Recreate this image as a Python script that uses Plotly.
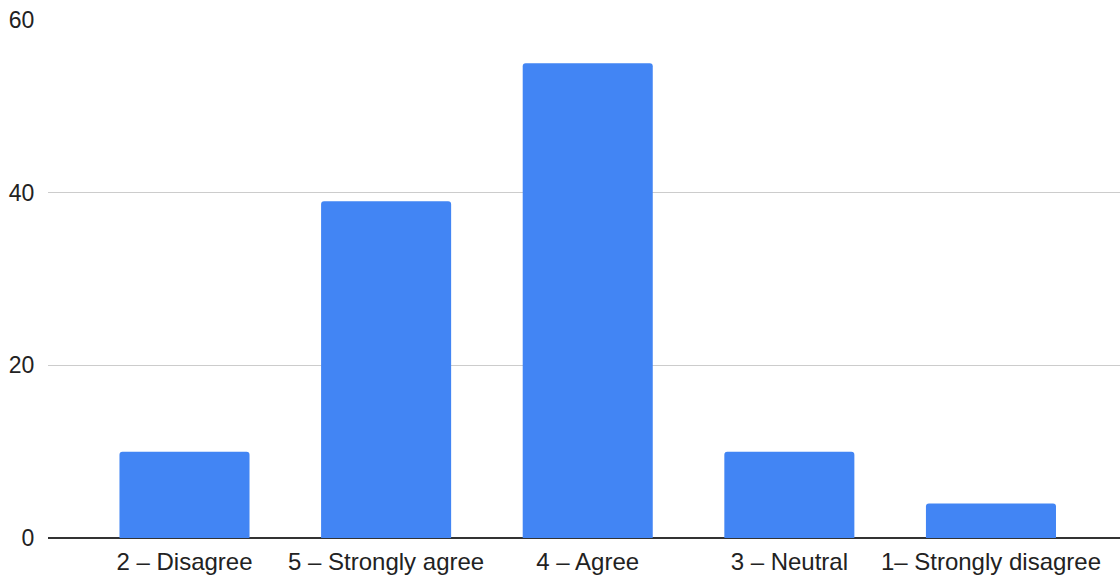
import plotly.graph_objects as go

categories = ["2 – Disagree", "5 – Strongly agree", "4 – Agree", "3 – Neutral", "1– Strongly disagree"]
values = [10, 39, 55, 10, 4]
y_ticks = [0, 20, 40, 60]

fig = go.Figure(go.Bar(x=categories, y=values, marker=dict(color="#4285F4", line=dict(width=0)),
                       hoverinfo="x+y"))

fig.update_layout(
    width=1120, height=577,
    margin=dict(l=48, r=0, t=20, b=39),
    paper_bgcolor="white", plot_bgcolor="white",
    bargap=0.355, barcornerradius=3,
    font=dict(family="Liberation Sans, Arial, sans-serif", size=24, color="#222222"),
    showlegend=False,
)
fig.update_xaxes(type="category", range=[-0.677, 4.64], showgrid=False, showline=False, automargin=False,
                 ticks="outside", ticklen=2, tickcolor="rgba(0,0,0,0)", tickfont=dict(size=24, color="#222222"))
fig.update_yaxes(range=[0, 60], tickvals=y_ticks, showgrid=True, gridcolor="#cccccc", gridwidth=1.2,
                 zeroline=True, zerolinecolor="#333333", zerolinewidth=1.5, showline=False, automargin=False,
                 ticks="outside", ticklen=8, tickcolor="rgba(0,0,0,0)", tickfont=dict(size=23, color="#222222"))

fig.write_html("out.html", config={"displayModeBar": False},
               post_script="document.body.style.margin='0';document.body.style.overflow='hidden';")
